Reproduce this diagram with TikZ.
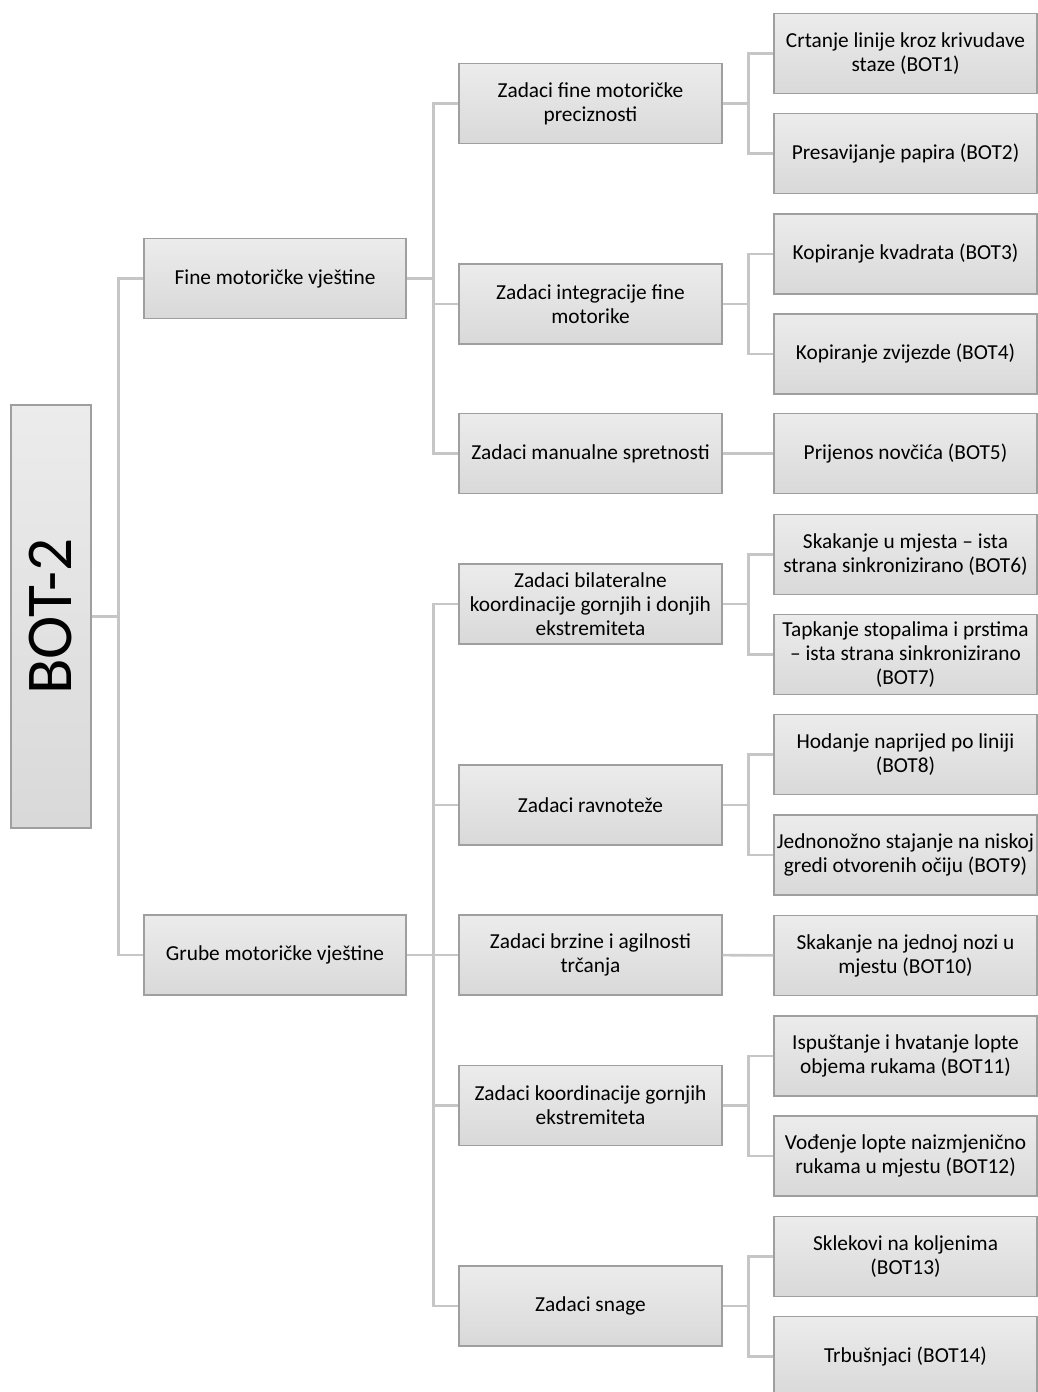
\documentclass[tikz,border=0pt]{standalone}
\usepackage{fontspec}
\setmainfont{Carlito}
\usetikzlibrary{positioning}

\tikzset{
  box/.style={rectangle,draw=gray!75,line width=0.8pt,top color=gray!15,bottom color=gray!30,
    minimum width=197.25pt,minimum height=60pt,align=center,inner sep=1pt,
    font=\fontsize{16}{18}\selectfont},
  link/.style={draw=gray!45,line width=1.9pt}
}

\begin{document}
\begin{tikzpicture}[x=0.75pt,y=-0.75pt]
\useasboundingbox (0,0) rectangle (1038,1392);
\node[box,minimum width=60pt,minimum height=317.25pt,font=\fontsize{49}{50}\selectfont] (root) at (51,616.5) {\rotatebox{90}{BOT-2}};

\node[box,minimum width=196.5pt] (fine) at (275,278.5) {Fine motoričke vještine};
\node[box,minimum width=196.5pt] (grube) at (275,955) {Grube motoričke vještine};

\node[box] (prec) at (590.5,103.5) {Zadaci fine motoričke\\preciznosti};
\node[box] (integ) at (590.5,304) {Zadaci integracije fine\\motorike};
\node[box] (manu) at (590.5,453.5) {Zadaci manualne spretnosti};
\node[box] (bilat) at (590.5,604) {Zadaci bilateralne\\koordinacije gornjih i donjih\\ekstremiteta};
\node[box] (ravn) at (590.5,805) {Zadaci ravnoteže};
\node[box] (brz) at (590.5,955) {Zadaci brzine i agilnosti\\trčanja};
\node[box] (koord) at (590.5,1105.5) {Zadaci koordinacije gornjih\\ekstremiteta};
\node[box] (snaga) at (590.5,1306) {Zadaci snage};

\node[box] (b1) at (905.5,53.5) {Crtanje linije kroz krivudave\\staze (BOT1)};
\node[box] (b2) at (905.5,153.5) {Presavijanje papira (BOT2)};
\node[box] (b3) at (905.5,254) {Kopiranje kvadrata (BOT3)};
\node[box] (b4) at (905.5,354) {Kopiranje zvijezde (BOT4)};
\node[box] (b5) at (905.5,453.5) {Prijenos novčića (BOT5)};
\node[box] (b6) at (905.5,554.5) {Skakanje u mjesta -- ista\\strana sinkronizirano (BOT6)};
\node[box] (b7) at (905.5,654.5) {Tapkanje stopalima i prstima\\-- ista strana sinkronizirano\\(BOT7)};
\node[box] (b8) at (905.5,754.5) {Hodanje naprijed po liniji\\(BOT8)};
\node[box] (b9) at (905.5,855) {Jednonožno stajanje na niskoj\\gredi otvorenih očiju (BOT9)};
\node[box] (b10) at (905.5,955.5) {Skakanje na jednoj nozi u\\mjestu (BOT10)};
\node[box] (b11) at (905.5,1056) {Ispuštanje i hvatanje lopte\\objema rukama (BOT11)};
\node[box] (b12) at (905.5,1156) {Vođenje lopte naizmjenično\\rukama u mjestu (BOT12)};
\node[box] (b13) at (905.5,1256.5) {Sklekovi na koljenima\\(BOT13)};
\node[box] (b14) at (905.5,1356.5) {Trbušnjaci (BOT14)};

% root
\coordinate (j0) at ([xshift=20.25pt]root.east);
\draw[link] (root.east) -- (j0) (fine.west) -| (j0) |- (grube.west);

% level 2
\coordinate (j1) at ([xshift=20.25pt]fine.east);
\draw[link] (fine.east) -- (j1) (prec.west) -| (j1) |- (manu.west) (j1) |- (integ.west);
\coordinate (j2) at ([xshift=20.25pt]grube.east);
\draw[link] (grube.east) -- (j2) (bilat.west) -| (j2) |- (snaga.west);
\foreach \n in {ravn,brz,koord}
  \draw[link] (j2 |- \n.west) -- (\n.west);

% level 3
\foreach \a/\b/\c in {prec/b1/b2,integ/b3/b4,bilat/b6/b7,ravn/b8/b9,koord/b11/b12,snaga/b13/b14}{
  \coordinate (k) at ([xshift=19.5pt]\a.east);
  \draw[link] (\a.east) -- (k) (\b.west) -| (k) |- (\c.west);
}
\draw[link] (manu) -- (b5);
\draw[link] (brz) -- (b10);
\end{tikzpicture}
\end{document}
